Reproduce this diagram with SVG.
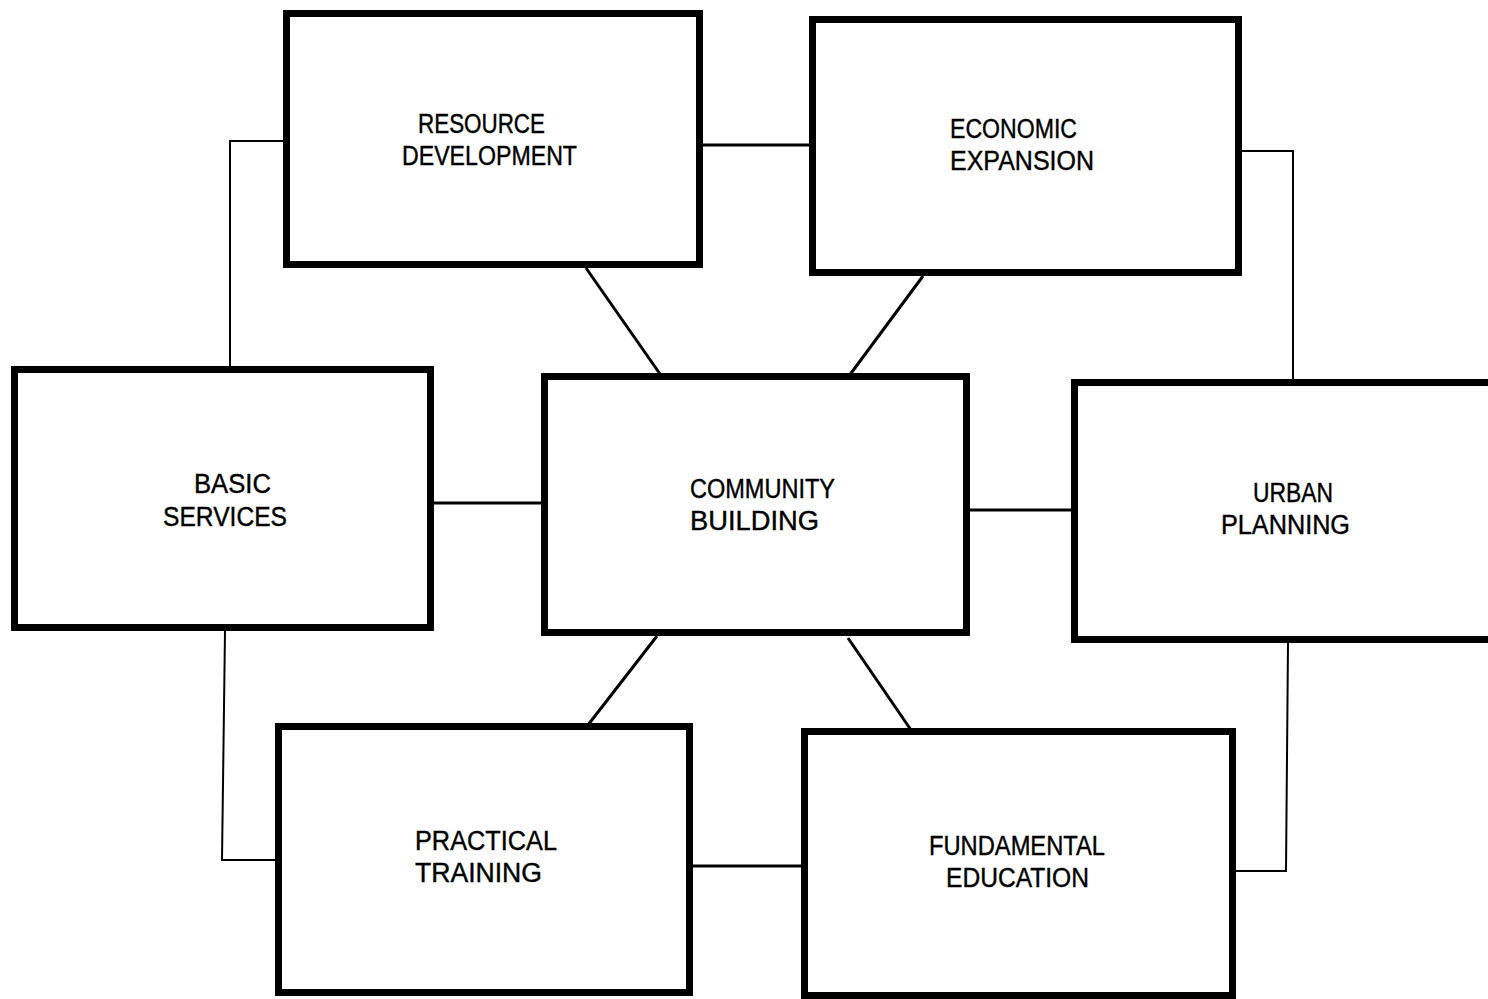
<svg xmlns="http://www.w3.org/2000/svg" width="1488" height="999" viewBox="0 0 1488 999">
<style>
.box{fill:#fff;stroke:#000;stroke-width:7}
.lbl{font-family:"Liberation Sans",Arial,sans-serif;font-size:27px;fill:#000;stroke:#000;stroke-width:0.4}
.c{fill:none;stroke:#000;stroke-linejoin:miter}
.thin{stroke-width:2}
.med{stroke-width:3}
</style>
<rect width="1488" height="999" fill="#fff"/>
<g id="connectors">
<line class="c med" x1="703" y1="145" x2="809" y2="145"/>
<polyline class="c thin" points="283,141 230,141 230,367"/>
<polyline class="c thin" points="1242,151 1293,151 1293,380"/>
<line class="c med" x1="586" y1="268" x2="660" y2="374"/>
<line class="c med" x1="923" y1="276" x2="849" y2="376"/>
<line class="c med" x1="434" y1="503" x2="541" y2="503"/>
<line class="c med" x1="970" y1="510" x2="1071" y2="510"/>
<line class="c med" x1="657" y1="636" x2="588" y2="725"/>
<line class="c med" x1="848" y1="638" x2="911" y2="730"/>
<polyline class="c thin" points="225,631 222,860 275,860"/>
<polyline class="c thin" points="1288,643 1286,871 1236,871"/>
<line class="c med" x1="693" y1="866" x2="801" y2="866"/>
</g>
<g id="resource-development">
<rect class="box" x="286.5" y="13.5" width="413" height="251"/>
<text class="lbl" x="418" y="133" textLength="127" lengthAdjust="spacingAndGlyphs">RESOURCE</text>
<text class="lbl" x="402" y="165" textLength="175" lengthAdjust="spacingAndGlyphs">DEVELOPMENT</text>
</g>
<g id="economic-expansion">
<rect class="box" x="812.5" y="19.5" width="426" height="253"/>
<text class="lbl" x="950" y="138" textLength="127" lengthAdjust="spacingAndGlyphs">ECONOMIC</text>
<text class="lbl" x="950" y="170" textLength="144" lengthAdjust="spacingAndGlyphs">EXPANSION</text>
</g>
<g id="basic-services">
<rect class="box" x="14.5" y="369.5" width="416" height="258"/>
<text class="lbl" x="194" y="493" textLength="77" lengthAdjust="spacingAndGlyphs">BASIC</text>
<text class="lbl" x="163" y="526" textLength="124" lengthAdjust="spacingAndGlyphs">SERVICES</text>
</g>
<g id="community-building">
<rect class="box" x="544.5" y="376.5" width="422" height="256"/>
<text class="lbl" x="690" y="498" textLength="145" lengthAdjust="spacingAndGlyphs">COMMUNITY</text>
<text class="lbl" x="690" y="530" textLength="129" lengthAdjust="spacingAndGlyphs">BUILDING</text>
</g>
<g id="urban-planning">
<rect class="box" x="1074.5" y="382.5" width="430" height="257"/>
<text class="lbl" x="1253" y="502" textLength="80" lengthAdjust="spacingAndGlyphs">URBAN</text>
<text class="lbl" x="1221" y="534" textLength="129" lengthAdjust="spacingAndGlyphs">PLANNING</text>
</g>
<g id="practical-training">
<rect class="box" x="278.5" y="726.5" width="411" height="266"/>
<text class="lbl" x="415" y="850" textLength="142" lengthAdjust="spacingAndGlyphs">PRACTICAL</text>
<text class="lbl" x="415" y="882" textLength="127" lengthAdjust="spacingAndGlyphs">TRAINING</text>
</g>
<g id="fundamental-education">
<rect class="box" x="804.5" y="731.5" width="428" height="264"/>
<text class="lbl" x="929" y="855" textLength="176" lengthAdjust="spacingAndGlyphs">FUNDAMENTAL</text>
<text class="lbl" x="946" y="887" textLength="143" lengthAdjust="spacingAndGlyphs">EDUCATION</text>
</g>
</svg>
